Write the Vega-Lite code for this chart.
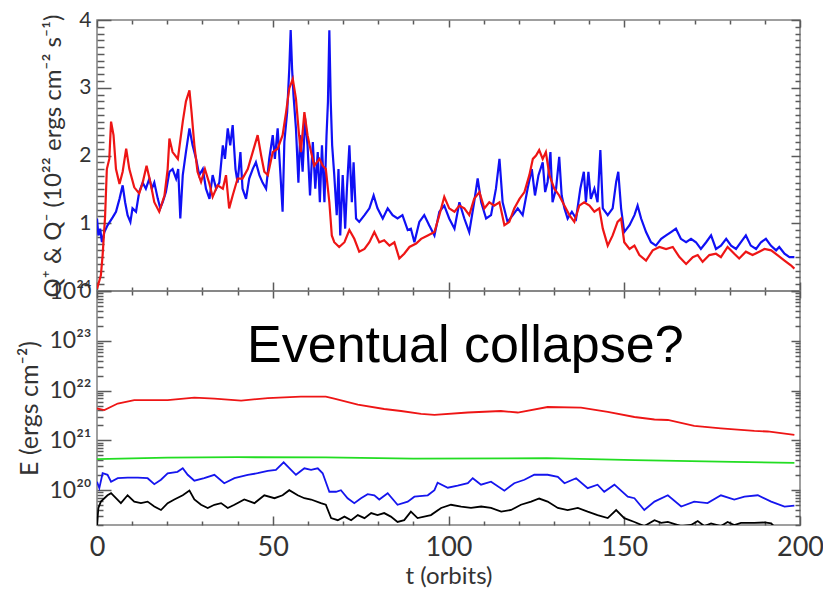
{
 "$schema": "https://vega.github.io/schema/vega-lite/v6.json",
 "background": "white",
 "padding": {"left": 16, "top": 8, "right": 0, "bottom": 5},
 "config": {
  "view": {"stroke": "#808080", "strokeWidth": 1.5},
  "axis": {"labelFont": "Lato", "titleFont": "Lato", "labelColor": "#333333", "titleColor": "#333333", "domain": false, "tickColor": "#5a5a5a", "grid": false, "titleFontWeight": "normal", "labelFlush": false, "labelOverlap": false, "tickWidth": 1.5}
 },
 "resolve": {"scale": {"color": "independent"}},
 "datasets": {
  "q": [
   {"s":"Q−","t":0,"v":1.07},{"s":"Q−","t":0.4,"v":0.82},{"s":"Q−","t":0.9,"v":0.92},{"s":"Q−","t":1.4,"v":0.72},{"s":"Q−","t":2.1,"v":0.87},{"s":"Q−","t":3.0,"v":0.97},{"s":"Q−","t":4.5,"v":1.09},{"s":"Q−","t":5.4,"v":1.17},{"s":"Q−","t":6.4,"v":1.36},{"s":"Q−","t":7.3,"v":1.56},{"s":"Q−","t":8.0,"v":1.31},{"s":"Q−","t":8.7,"v":1.12},{"s":"Q−","t":9.5,"v":1.02},{"s":"Q−","t":10.1,"v":1.22},{"s":"Q−","t":11.1,"v":1.17},{"s":"Q−","t":12.0,"v":1.46},{"s":"Q−","t":13.0,"v":1.6},{"s":"Q−","t":13.9,"v":1.51},{"s":"Q−","t":14.9,"v":1.66},{"s":"Q−","t":15.6,"v":1.51},{"s":"Q−","t":16.3,"v":1.6},{"s":"Q−","t":17.3,"v":1.36},{"s":"Q−","t":18.0,"v":1.22},{"s":"Q−","t":18.7,"v":1.31},{"s":"Q−","t":19.6,"v":1.46},{"s":"Q−","t":20.6,"v":1.76},{"s":"Q−","t":21.5,"v":1.8},{"s":"Q−","t":22.5,"v":1.66},{"s":"Q−","t":23.1,"v":1.8},{"s":"Q−","t":23.7,"v":1.07},{"s":"Q−","t":24.4,"v":1.71},{"s":"Q−","t":25.3,"v":2.05},{"s":"Q−","t":26.3,"v":2.4},{"s":"Q−","t":27.2,"v":2.15},{"s":"Q−","t":28.2,"v":1.95},{"s":"Q−","t":29.1,"v":1.71},{"s":"Q−","t":30.1,"v":1.8},{"s":"Q−","t":31.0,"v":1.51},{"s":"Q−","t":32.0,"v":1.36},{"s":"Q−","t":32.9,"v":1.71},{"s":"Q−","t":33.9,"v":1.51},{"s":"Q−","t":34.8,"v":1.6},{"s":"Q−","t":35.8,"v":2.15},{"s":"Q−","t":36.4,"v":1.95},{"s":"Q−","t":37.2,"v":2.4},{"s":"Q−","t":37.9,"v":2.15},{"s":"Q−","t":38.6,"v":2.45},{"s":"Q−","t":39.4,"v":1.8},{"s":"Q−","t":40.0,"v":1.6},{"s":"Q−","t":40.8,"v":2.05},{"s":"Q−","t":41.4,"v":1.51},{"s":"Q−","t":42.4,"v":1.36},{"s":"Q−","t":43.3,"v":1.66},{"s":"Q−","t":44.3,"v":1.8},{"s":"Q−","t":45.2,"v":1.9},{"s":"Q−","t":46.2,"v":1.71},{"s":"Q−","t":47.1,"v":1.6},{"s":"Q−","t":48.1,"v":1.51},{"s":"Q−","t":49.0,"v":1.95},{"s":"Q−","t":50.0,"v":2.3},{"s":"Q−","t":50.6,"v":1.95},{"s":"Q−","t":51.4,"v":2.4},{"s":"Q−","t":52.2,"v":1.71},{"s":"Q−","t":52.8,"v":1.17},{"s":"Q−","t":53.3,"v":2.2},{"s":"Q−","t":54.1,"v":2.64},{"s":"Q−","t":54.7,"v":3.28},{"s":"Q−","t":55.1,"v":3.85},{"s":"Q−","t":55.5,"v":3.28},{"s":"Q−","t":55.9,"v":2.89},{"s":"Q−","t":56.6,"v":2.4},{"s":"Q−","t":57.3,"v":1.6},{"s":"Q−","t":57.8,"v":2.3},{"s":"Q−","t":58.5,"v":1.76},{"s":"Q−","t":59.2,"v":2.55},{"s":"Q−","t":59.9,"v":2.15},{"s":"Q−","t":60.6,"v":1.41},{"s":"Q−","t":61.4,"v":2.2},{"s":"Q−","t":62.1,"v":1.51},{"s":"Q−","t":62.8,"v":2.05},{"s":"Q−","t":63.4,"v":1.31},{"s":"Q−","t":64.0,"v":2.15},{"s":"Q−","t":64.7,"v":1.31},{"s":"Q−","t":65.3,"v":2.3},{"s":"Q−","t":65.7,"v":2.79},{"s":"Q−","t":66.1,"v":3.85},{"s":"Q−","t":66.5,"v":2.79},{"s":"Q−","t":66.9,"v":2.15},{"s":"Q−","t":67.5,"v":1.71},{"s":"Q−","t":68.2,"v":1.12},{"s":"Q−","t":68.7,"v":1.8},{"s":"Q−","t":69.2,"v":0.82},{"s":"Q−","t":69.9,"v":1.71},{"s":"Q−","t":70.6,"v":0.92},{"s":"Q−","t":71.1,"v":1.51},{"s":"Q−","t":71.8,"v":2.15},{"s":"Q−","t":72.5,"v":1.31},{"s":"Q−","t":73.0,"v":1.9},{"s":"Q−","t":73.7,"v":1.07},{"s":"Q−","t":74.6,"v":1.02},{"s":"Q−","t":76.1,"v":1.12},{"s":"Q−","t":77.5,"v":1.22},{"s":"Q−","t":78.7,"v":1.41},{"s":"Q−","t":79.8,"v":1.22},{"s":"Q−","t":81.3,"v":1.07},{"s":"Q−","t":82.7,"v":1.22},{"s":"Q−","t":84.1,"v":1.12},{"s":"Q−","t":85.5,"v":1.07},{"s":"Q−","t":86.9,"v":1.12},{"s":"Q−","t":88.4,"v":0.9},{"s":"Q−","t":89.3,"v":0.92},{"s":"Q−","t":90.3,"v":0.72},{"s":"Q−","t":91.7,"v":1.02},{"s":"Q−","t":93.1,"v":1.12},{"s":"Q−","t":94.5,"v":0.97},{"s":"Q−","t":96.0,"v":0.82},{"s":"Q−","t":97.4,"v":1.17},{"s":"Q−","t":98.8,"v":1.26},{"s":"Q−","t":100.2,"v":1.07},{"s":"Q−","t":101.7,"v":0.92},{"s":"Q−","t":103.1,"v":1.31},{"s":"Q−","t":104.5,"v":1.07},{"s":"Q−","t":105.9,"v":0.87},{"s":"Q−","t":107.3,"v":1.31},{"s":"Q−","t":108.3,"v":1.66},{"s":"Q−","t":109.3,"v":1.31},{"s":"Q−","t":110.7,"v":1.07},{"s":"Q−","t":112.1,"v":1.12},{"s":"Q−","t":113.5,"v":1.51},{"s":"Q−","t":114.5,"v":1.95},{"s":"Q−","t":115.4,"v":1.31},{"s":"Q−","t":116.8,"v":1.02},{"s":"Q−","t":118.3,"v":1.12},{"s":"Q−","t":119.7,"v":1.22},{"s":"Q−","t":121.1,"v":1.12},{"s":"Q−","t":122.5,"v":1.51},{"s":"Q−","t":123.7,"v":1.8},{"s":"Q−","t":124.6,"v":1.41},{"s":"Q−","t":125.6,"v":1.71},{"s":"Q−","t":126.8,"v":1.9},{"s":"Q−","t":127.5,"v":1.46},{"s":"Q−","t":128.2,"v":1.61},{"s":"Q−","t":129.0,"v":2.05},{"s":"Q−","t":129.6,"v":1.31},{"s":"Q−","t":130.6,"v":1.51},{"s":"Q−","t":131.5,"v":1.98},{"s":"Q−","t":132.2,"v":1.41},{"s":"Q−","t":133.0,"v":1.22},{"s":"Q−","t":133.9,"v":1.07},{"s":"Q−","t":135.1,"v":1.17},{"s":"Q−","t":136.3,"v":1.07},{"s":"Q−","t":137.5,"v":1.51},{"s":"Q−","t":138.5,"v":1.76},{"s":"Q−","t":139.1,"v":1.31},{"s":"Q−","t":139.8,"v":1.76},{"s":"Q−","t":140.5,"v":1.36},{"s":"Q−","t":141.5,"v":1.51},{"s":"Q−","t":142.4,"v":1.31},{"s":"Q−","t":143.2,"v":2.08},{"s":"Q−","t":143.9,"v":1.22},{"s":"Q−","t":145.3,"v":1.12},{"s":"Q−","t":146.7,"v":1.22},{"s":"Q−","t":147.7,"v":1.61},{"s":"Q−","t":148.3,"v":1.76},{"s":"Q−","t":149.1,"v":1.22},{"s":"Q−","t":150.0,"v":0.87},{"s":"Q−","t":151.5,"v":0.97},{"s":"Q−","t":152.9,"v":1.12},{"s":"Q−","t":153.8,"v":1.26},{"s":"Q−","t":154.8,"v":1.07},{"s":"Q−","t":156.2,"v":0.87},{"s":"Q−","t":157.6,"v":0.72},{"s":"Q−","t":159.0,"v":0.67},{"s":"Q−","t":160.5,"v":0.77},{"s":"Q−","t":161.9,"v":0.82},{"s":"Q−","t":163.3,"v":0.87},{"s":"Q−","t":164.7,"v":0.92},{"s":"Q−","t":166.1,"v":0.77},{"s":"Q−","t":167.6,"v":0.72},{"s":"Q−","t":169.0,"v":0.77},{"s":"Q−","t":170.4,"v":0.72},{"s":"Q−","t":171.8,"v":0.62},{"s":"Q−","t":173.3,"v":0.72},{"s":"Q−","t":174.7,"v":0.82},{"s":"Q−","t":176.1,"v":0.62},{"s":"Q−","t":177.5,"v":0.67},{"s":"Q−","t":179.0,"v":0.77},{"s":"Q−","t":180.4,"v":0.67},{"s":"Q−","t":181.8,"v":0.62},{"s":"Q−","t":183.2,"v":0.72},{"s":"Q−","t":184.6,"v":0.82},{"s":"Q−","t":186.0,"v":0.67},{"s":"Q−","t":187.5,"v":0.62},{"s":"Q−","t":188.9,"v":0.72},{"s":"Q−","t":190.3,"v":0.77},{"s":"Q−","t":191.7,"v":0.67},{"s":"Q−","t":193.2,"v":0.6},{"s":"Q−","t":194.1,"v":0.65},{"s":"Q−","t":195.6,"v":0.55},{"s":"Q−","t":197.0,"v":0.5},{"s":"Q−","t":198.4,"v":0.5},
   {"s":"Q+","t":0,"v":0.03},{"s":"Q+","t":1.1,"v":0.23},{"s":"Q+","t":1.6,"v":0.53},{"s":"Q+","t":2.3,"v":1.1},{"s":"Q+","t":2.8,"v":1.8},{"s":"Q+","t":3.5,"v":1.95},{"s":"Q+","t":4.0,"v":2.5},{"s":"Q+","t":4.7,"v":2.3},{"s":"Q+","t":5.4,"v":1.8},{"s":"Q+","t":6.4,"v":1.58},{"s":"Q+","t":7.3,"v":1.76},{"s":"Q+","t":8.3,"v":2.1},{"s":"Q+","t":9.2,"v":1.8},{"s":"Q+","t":10.6,"v":1.53},{"s":"Q+","t":12.0,"v":1.44},{"s":"Q+","t":13.0,"v":1.6},{"s":"Q+","t":14.1,"v":1.85},{"s":"Q+","t":15.2,"v":1.6},{"s":"Q+","t":16.3,"v":1.31},{"s":"Q+","t":17.7,"v":1.17},{"s":"Q+","t":19.2,"v":1.41},{"s":"Q+","t":20.1,"v":1.8},{"s":"Q+","t":20.6,"v":2.25},{"s":"Q+","t":21.5,"v":2.05},{"s":"Q+","t":23.0,"v":1.95},{"s":"Q+","t":24.4,"v":2.5},{"s":"Q+","t":25.3,"v":2.8},{"s":"Q+","t":26.3,"v":2.96},{"s":"Q+","t":26.9,"v":2.64},{"s":"Q+","t":27.7,"v":2.15},{"s":"Q+","t":28.6,"v":1.76},{"s":"Q+","t":29.6,"v":1.61},{"s":"Q+","t":30.7,"v":1.8},{"s":"Q+","t":32.0,"v":1.58},{"s":"Q+","t":32.9,"v":1.39},{"s":"Q+","t":34.3,"v":1.56},{"s":"Q+","t":35.8,"v":1.51},{"s":"Q+","t":36.7,"v":1.71},{"s":"Q+","t":37.6,"v":1.22},{"s":"Q+","t":38.6,"v":1.41},{"s":"Q+","t":40.0,"v":1.66},{"s":"Q+","t":41.4,"v":1.66},{"s":"Q+","t":42.9,"v":1.8},{"s":"Q+","t":44.3,"v":2.05},{"s":"Q+","t":45.7,"v":2.3},{"s":"Q+","t":46.7,"v":2.0},{"s":"Q+","t":47.6,"v":1.76},{"s":"Q+","t":48.6,"v":1.71},{"s":"Q+","t":50.0,"v":2.05},{"s":"Q+","t":51.4,"v":2.1},{"s":"Q+","t":52.8,"v":2.3},{"s":"Q+","t":53.8,"v":2.64},{"s":"Q+","t":54.7,"v":2.99},{"s":"Q+","t":55.7,"v":3.13},{"s":"Q+","t":56.6,"v":2.84},{"s":"Q+","t":57.4,"v":2.35},{"s":"Q+","t":58.0,"v":2.05},{"s":"Q+","t":59.0,"v":2.64},{"s":"Q+","t":59.9,"v":2.3},{"s":"Q+","t":60.9,"v":2.05},{"s":"Q+","t":61.8,"v":1.85},{"s":"Q+","t":63.3,"v":1.95},{"s":"Q+","t":64.2,"v":1.85},{"s":"Q+","t":65.1,"v":1.8},{"s":"Q+","t":66.1,"v":1.31},{"s":"Q+","t":66.8,"v":0.82},{"s":"Q+","t":67.5,"v":0.72},{"s":"Q+","t":68.9,"v":0.65},{"s":"Q+","t":70.4,"v":0.72},{"s":"Q+","t":71.8,"v":0.9},{"s":"Q+","t":73.2,"v":0.77},{"s":"Q+","t":74.6,"v":0.58},{"s":"Q+","t":76.1,"v":0.62},{"s":"Q+","t":77.5,"v":0.72},{"s":"Q+","t":78.9,"v":0.87},{"s":"Q+","t":80.3,"v":0.72},{"s":"Q+","t":81.7,"v":0.75},{"s":"Q+","t":83.2,"v":0.67},{"s":"Q+","t":84.6,"v":0.72},{"s":"Q+","t":86.0,"v":0.48},{"s":"Q+","t":87.4,"v":0.55},{"s":"Q+","t":88.9,"v":0.65},{"s":"Q+","t":90.8,"v":0.7},{"s":"Q+","t":92.2,"v":0.77},{"s":"Q+","t":94.1,"v":0.82},{"s":"Q+","t":96.0,"v":0.87},{"s":"Q+","t":97.4,"v":1.12},{"s":"Q+","t":98.8,"v":1.39},{"s":"Q+","t":100.2,"v":1.22},{"s":"Q+","t":101.7,"v":1.17},{"s":"Q+","t":103.1,"v":1.26},{"s":"Q+","t":104.5,"v":1.22},{"s":"Q+","t":105.9,"v":1.12},{"s":"Q+","t":107.3,"v":1.36},{"s":"Q+","t":108.8,"v":1.46},{"s":"Q+","t":110.2,"v":1.22},{"s":"Q+","t":111.6,"v":1.31},{"s":"Q+","t":113.0,"v":1.26},{"s":"Q+","t":114.5,"v":1.31},{"s":"Q+","t":115.9,"v":0.97},{"s":"Q+","t":117.3,"v":1.02},{"s":"Q+","t":118.7,"v":1.22},{"s":"Q+","t":120.2,"v":1.36},{"s":"Q+","t":121.6,"v":1.46},{"s":"Q+","t":123.0,"v":1.71},{"s":"Q+","t":124.0,"v":1.95},{"s":"Q+","t":124.9,"v":2.0},{"s":"Q+","t":125.8,"v":2.08},{"s":"Q+","t":126.8,"v":1.95},{"s":"Q+","t":127.7,"v":2.05},{"s":"Q+","t":128.7,"v":1.71},{"s":"Q+","t":130.1,"v":1.51},{"s":"Q+","t":131.5,"v":1.41},{"s":"Q+","t":133.0,"v":1.26},{"s":"Q+","t":134.4,"v":1.12},{"s":"Q+","t":135.8,"v":1.02},{"s":"Q+","t":137.2,"v":1.26},{"s":"Q+","t":138.6,"v":1.31},{"s":"Q+","t":140.1,"v":1.26},{"s":"Q+","t":141.5,"v":1.17},{"s":"Q+","t":142.9,"v":1.22},{"s":"Q+","t":143.9,"v":0.92},{"s":"Q+","t":145.3,"v":0.67},{"s":"Q+","t":146.7,"v":0.82},{"s":"Q+","t":148.1,"v":1.02},{"s":"Q+","t":149.1,"v":1.07},{"s":"Q+","t":150.0,"v":0.72},{"s":"Q+","t":151.5,"v":0.62},{"s":"Q+","t":152.9,"v":0.67},{"s":"Q+","t":154.3,"v":0.53},{"s":"Q+","t":156.2,"v":0.45},{"s":"Q+","t":158.1,"v":0.6},{"s":"Q+","t":160.0,"v":0.65},{"s":"Q+","t":161.9,"v":0.62},{"s":"Q+","t":163.8,"v":0.65},{"s":"Q+","t":165.7,"v":0.5},{"s":"Q+","t":167.6,"v":0.4},{"s":"Q+","t":169.5,"v":0.5},{"s":"Q+","t":170.9,"v":0.53},{"s":"Q+","t":172.3,"v":0.43},{"s":"Q+","t":174.2,"v":0.53},{"s":"Q+","t":176.1,"v":0.55},{"s":"Q+","t":177.5,"v":0.5},{"s":"Q+","t":179.4,"v":0.65},{"s":"Q+","t":181.3,"v":0.55},{"s":"Q+","t":182.7,"v":0.48},{"s":"Q+","t":184.6,"v":0.58},{"s":"Q+","t":186.5,"v":0.53},{"s":"Q+","t":188.4,"v":0.58},{"s":"Q+","t":189.9,"v":0.62},{"s":"Q+","t":191.8,"v":0.6},{"s":"Q+","t":193.6,"v":0.53},{"s":"Q+","t":195.6,"v":0.45},{"s":"Q+","t":197.4,"v":0.38},{"s":"Q+","t":198.4,"v":0.33}
  ],
  "e": [
   {"s":"E1","t":0,"E":4.37e21},{"s":"E1","t":2.1,"E":4.07e21},{"s":"E1","t":5.9,"E":5.5e21},{"s":"E1","t":10.6,"E":6.46e21},{"s":"E1","t":20.1,"E":6.46e21},{"s":"E1","t":27.7,"E":7.24e21},{"s":"E1","t":33.4,"E":6.92e21},{"s":"E1","t":41,"E":6.31e21},{"s":"E1","t":48.6,"E":7.08e21},{"s":"E1","t":58,"E":7.59e21},{"s":"E1","t":65.1,"E":7.59e21},{"s":"E1","t":67.5,"E":6.92e21},{"s":"E1","t":74.2,"E":5.25e21},{"s":"E1","t":81.7,"E":4.27e21},{"s":"E1","t":86.5,"E":3.89e21},{"s":"E1","t":92.2,"E":3.4e21},{"s":"E1","t":96,"E":3.24e21},{"s":"E1","t":105.5,"E":3.63e21},{"s":"E1","t":114.9,"E":3.89e21},{"s":"E1","t":119.7,"E":3.63e21},{"s":"E1","t":128.2,"E":4.68e21},{"s":"E1","t":137.7,"E":4.57e21},{"s":"E1","t":145.3,"E":3.72e21},{"s":"E1","t":152.9,"E":2.95e21},{"s":"E1","t":158.6,"E":2.63e21},{"s":"E1","t":162.4,"E":2.57e21},{"s":"E1","t":169.9,"E":1.95e21},{"s":"E1","t":177.5,"E":1.74e21},{"s":"E1","t":187,"E":1.55e21},{"s":"E1","t":190.8,"E":1.51e21},{"s":"E1","t":198.4,"E":1.29e21},
   {"s":"E2","t":0,"E":4.2e20},{"s":"E2","t":20,"E":4.5e20},{"s":"E2","t":40,"E":4.6e20},{"s":"E2","t":65,"E":4.55e20},{"s":"E2","t":90,"E":4.3e20},{"s":"E2","t":128,"E":4.4e20},{"s":"E2","t":153,"E":4.0e20},{"s":"E2","t":181,"E":3.7e20},{"s":"E2","t":198.4,"E":3.55e20},
   {"s":"E3","t":0,"E":1.48e20},{"s":"E3","t":0.66,"E":1.1e20},{"s":"E3","t":1.6,"E":2.19e20},{"s":"E3","t":3.0,"E":2.04e20},{"s":"E3","t":4.0,"E":1.48e20},{"s":"E3","t":5.9,"E":1.74e20},{"s":"E3","t":8.7,"E":1.78e20},{"s":"E3","t":11.6,"E":1.78e20},{"s":"E3","t":14.4,"E":1.74e20},{"s":"E3","t":16.3,"E":1.32e20},{"s":"E3","t":18.2,"E":1.62e20},{"s":"E3","t":20.1,"E":2.19e20},{"s":"E3","t":22.9,"E":2.34e20},{"s":"E3","t":24.4,"E":2.75e20},{"s":"E3","t":25.8,"E":2.04e20},{"s":"E3","t":27.7,"E":1.55e20},{"s":"E3","t":30.5,"E":1.74e20},{"s":"E3","t":33.4,"E":2.04e20},{"s":"E3","t":36.2,"E":1.38e20},{"s":"E3","t":39.1,"E":1.74e20},{"s":"E3","t":42.9,"E":2.04e20},{"s":"E3","t":45.7,"E":2.19e20},{"s":"E3","t":48.6,"E":2.45e20},{"s":"E3","t":50.9,"E":2.57e20},{"s":"E3","t":53.1,"E":3.63e20},{"s":"E3","t":55.2,"E":2.57e20},{"s":"E3","t":56.6,"E":2.04e20},{"s":"E3","t":59,"E":2.75e20},{"s":"E3","t":60.9,"E":2.57e20},{"s":"E3","t":62.8,"E":2.75e20},{"s":"E3","t":64.2,"E":2.19e20},{"s":"E3","t":66.1,"E":9.3e19},{"s":"E3","t":68,"E":9.3e19},{"s":"E3","t":69.4,"E":1.0e20},{"s":"E3","t":71.3,"E":6.9e19},{"s":"E3","t":73.2,"E":5.5e19},{"s":"E3","t":75.1,"E":6.9e19},{"s":"E3","t":77,"E":8.3e19},{"s":"E3","t":78.9,"E":7.9e19},{"s":"E3","t":80.3,"E":6.5e19},{"s":"E3","t":82.7,"E":8.7e19},{"s":"E3","t":85.5,"E":5.1e19},{"s":"E3","t":88.4,"E":5.9e19},{"s":"E3","t":90.3,"E":7.4e19},{"s":"E3","t":94.1,"E":7.9e19},{"s":"E3","t":96,"E":1.0e20},{"s":"E3","t":96.9,"E":1.41e20},{"s":"E3","t":99.8,"E":1.12e20},{"s":"E3","t":102.6,"E":1.23e20},{"s":"E3","t":105.5,"E":1.38e20},{"s":"E3","t":106.9,"E":1.74e20},{"s":"E3","t":109.25,"E":1.29e20},{"s":"E3","t":112.1,"E":1.48e20},{"s":"E3","t":115.9,"E":9.8e19},{"s":"E3","t":118.7,"E":1.38e20},{"s":"E3","t":121.6,"E":1.62e20},{"s":"E3","t":124.4,"E":2.04e20},{"s":"E3","t":128.2,"E":2.04e20},{"s":"E3","t":131.1,"E":1.86e20},{"s":"E3","t":133,"E":1.38e20},{"s":"E3","t":136.3,"E":1.74e20},{"s":"E3","t":139.6,"E":1.1e20},{"s":"E3","t":142.4,"E":1.29e20},{"s":"E3","t":144.3,"E":9.3e19},{"s":"E3","t":147.2,"E":1.29e20},{"s":"E3","t":151,"E":7.4e19},{"s":"E3","t":152.9,"E":6.9e19},{"s":"E3","t":155.7,"E":4.0e19},{"s":"E3","t":158.6,"E":5.9e19},{"s":"E3","t":162.4,"E":7.9e19},{"s":"E3","t":166.2,"E":4.7e19},{"s":"E3","t":169.9,"E":5.9e19},{"s":"E3","t":173.7,"E":5.5e19},{"s":"E3","t":177.5,"E":7.9e19},{"s":"E3","t":181.3,"E":6.5e19},{"s":"E3","t":184.2,"E":7.4e19},{"s":"E3","t":188,"E":7.9e19},{"s":"E3","t":191.8,"E":5.9e19},{"s":"E3","t":195.6,"E":4.7e19},{"s":"E3","t":198.4,"E":4.9e19},
   {"s":"E4","t":0,"E":2.0e19},{"s":"E4","t":0.4,"E":4.4e19},{"s":"E4","t":1.1,"E":5.9e19},{"s":"E4","t":3.0,"E":7.9e19},{"s":"E4","t":4.0,"E":8.7e19},{"s":"E4","t":5.4,"E":6.9e19},{"s":"E4","t":6.8,"E":5.5e19},{"s":"E4","t":8.7,"E":7.9e19},{"s":"E4","t":10.6,"E":5.9e19},{"s":"E4","t":12.5,"E":5.5e19},{"s":"E4","t":14.4,"E":5.9e19},{"s":"E4","t":16.3,"E":4.7e19},{"s":"E4","t":18.2,"E":4.0e19},{"s":"E4","t":20.1,"E":5.5e19},{"s":"E4","t":22,"E":6.5e19},{"s":"E4","t":24.4,"E":7.9e19},{"s":"E4","t":26.3,"E":9.8e19},{"s":"E4","t":27.7,"E":6.5e19},{"s":"E4","t":29.6,"E":5.1e19},{"s":"E4","t":31.5,"E":4.4e19},{"s":"E4","t":33.4,"E":5.1e19},{"s":"E4","t":35.3,"E":5.5e19},{"s":"E4","t":37.2,"E":4.4e19},{"s":"E4","t":39.1,"E":5.1e19},{"s":"E4","t":41.9,"E":6.5e19},{"s":"E4","t":44.8,"E":5.5e19},{"s":"E4","t":47.6,"E":7.9e19},{"s":"E4","t":50.5,"E":6.9e19},{"s":"E4","t":52.8,"E":7.9e19},{"s":"E4","t":54.7,"E":1.0e20},{"s":"E4","t":57.1,"E":7.9e19},{"s":"E4","t":59,"E":6.9e19},{"s":"E4","t":60.9,"E":6.5e19},{"s":"E4","t":63.7,"E":5.5e19},{"s":"E4","t":65.1,"E":5.1e19},{"s":"E4","t":66.6,"E":2.75e19},{"s":"E4","t":68.5,"E":2.5e19},{"s":"E4","t":70.4,"E":2.95e19},{"s":"E4","t":72.3,"E":2.5e19},{"s":"E4","t":74.2,"E":3.16e19},{"s":"E4","t":76.1,"E":2.75e19},{"s":"E4","t":78,"E":3.47e19},{"s":"E4","t":79.8,"E":3.16e19},{"s":"E4","t":81.7,"E":3.47e19},{"s":"E4","t":83.6,"E":2.95e19},{"s":"E4","t":85.5,"E":2.3e19},{"s":"E4","t":87.4,"E":2.5e19},{"s":"E4","t":89.3,"E":3.7e19},{"s":"E4","t":91.2,"E":2.75e19},{"s":"E4","t":95,"E":3.16e19},{"s":"E4","t":97.9,"E":4.4e19},{"s":"E4","t":100.7,"E":5.1e19},{"s":"E4","t":103.6,"E":4.7e19},{"s":"E4","t":106.4,"E":4.4e19},{"s":"E4","t":109.3,"E":4.7e19},{"s":"E4","t":112.1,"E":4.4e19},{"s":"E4","t":115,"E":3.7e19},{"s":"E4","t":117.8,"E":4.0e19},{"s":"E4","t":120.6,"E":5.1e19},{"s":"E4","t":123.5,"E":5.9e19},{"s":"E4","t":125.8,"E":6.8e19},{"s":"E4","t":128.2,"E":5.9e19},{"s":"E4","t":131.1,"E":4.4e19},{"s":"E4","t":133.9,"E":4.0e19},{"s":"E4","t":136.8,"E":4.4e19},{"s":"E4","t":139.6,"E":3.7e19},{"s":"E4","t":142.4,"E":3.16e19},{"s":"E4","t":145.3,"E":2.75e19},{"s":"E4","t":147.7,"E":4.0e19},{"s":"E4","t":150,"E":2.75e19},{"s":"E4","t":152.9,"E":2.3e19},{"s":"E4","t":155.7,"E":1.9e19},{"s":"E4","t":158.6,"E":2.5e19},{"s":"E4","t":160.5,"E":2.2e19},{"s":"E4","t":162.4,"E":2.3e19},{"s":"E4","t":166.2,"E":1.9e19},{"s":"E4","t":169,"E":2.0e19},{"s":"E4","t":170.9,"E":2.4e19},{"s":"E4","t":172.8,"E":1.9e19},{"s":"E4","t":174.7,"E":2.15e19},{"s":"E4","t":177.5,"E":1.9e19},{"s":"E4","t":179.4,"E":2.3e19},{"s":"E4","t":181.3,"E":2.0e19},{"s":"E4","t":183.2,"E":2.2e19},{"s":"E4","t":187,"E":2.2e19},{"s":"E4","t":189.9,"E":2.25e19},{"s":"E4","t":191.8,"E":2.15e19},{"s":"E4","t":193.6,"E":1.6e19},{"s":"E4","t":198.4,"E":1.6e19}
  ],
  "note": [{"label": "Eventual collapse?"}]
 },
 "spacing": 0,
 "bounds": "flush",
 "vconcat": [
  {
   "width": 703, "height": 271,
   "layer": [
    {
     "data": {"name": "q"},
     "mark": {"type": "line", "strokeWidth": 2.2, "clip": true},
     "encoding": {
      "x": {"field": "t", "type": "quantitative", "scale": {"domain": [0, 200], "nice": false},
        "axis": {"orient": "bottom", "title": null, "labels": false, "values": [0,50,100,150,200], "tickSize": -9}},
      "y": {"field": "v", "type": "quantitative", "scale": {"domain": [0, 4], "nice": false},
        "axis": {"orient": "left", "title": "Q⁺ & Q⁻ (10²² ergs cm⁻² s⁻¹)", "titleFontSize": 24, "titleX": -32, "labelFontSize": 21, "labelPadding": 20,
          "values": [0,1,2,3,4], "format": "d", "tickSize": -14}},
      "color": {"field": "s", "type": "nominal", "scale": {"domain": ["Q−", "Q+"], "range": ["#1010f5", "#ee1515"]}, "legend": null}
     }
    },
    {
     "data": {"name": "note"},
     "mark": {"type": "point", "opacity": 0},
     "encoding": {
      "x": {"datum": 0, "type": "quantitative", "scale": {"domain": [0, 200], "nice": false},
        "axis": {"orient": "top", "title": null, "labels": false, "values": [0,50,100,150,200], "tickSize": -7}},
      "y": {"datum": 1, "type": "quantitative", "scale": {"domain": [0, 4], "nice": false},
        "axis": {"orient": "right", "title": null, "labels": false, "values": [0,1,2,3,4], "tickSize": -9}}
     }
    },
    {
     "data": {"name": "note"},
     "mark": {"type": "point", "opacity": 0},
     "encoding": {
      "x": {"datum": 0, "type": "quantitative", "scale": {"domain": [0, 200], "nice": false},
        "axis": {"orient": "bottom", "title": null, "labels": false, "values": [10,20,30,40,60,70,80,90,110,120,130,140,160,170,180,190], "tickSize": -4}},
      "y": {"datum": 1, "type": "quantitative", "scale": {"domain": [0, 4], "nice": false},
        "axis": {"orient": "left", "title": null, "labels": false, "values": [0.1,0.2,0.3,0.4,0.5,0.6,0.7,0.8,0.9,1.1,1.2,1.3,1.4,1.5,1.6,1.7,1.8,1.9,2.1,2.2,2.3,2.4,2.5,2.6,2.7,2.8,2.9,3.1,3.2,3.3,3.4,3.5,3.6,3.7,3.8,3.9], "tickSize": -7}}
     }
    },
    {
     "data": {"name": "note"},
     "mark": {"type": "point", "opacity": 0},
     "encoding": {
      "x": {"datum": 0, "type": "quantitative", "scale": {"domain": [0, 200], "nice": false},
        "axis": {"orient": "top", "title": null, "labels": false, "values": [10,20,30,40,60,70,80,90,110,120,130,140,160,170,180,190], "tickSize": -4}},
      "y": {"datum": 1, "type": "quantitative", "scale": {"domain": [0, 4], "nice": false},
        "axis": {"orient": "right", "title": null, "labels": false, "values": [0.1,0.2,0.3,0.4,0.5,0.6,0.7,0.8,0.9,1.1,1.2,1.3,1.4,1.5,1.6,1.7,1.8,1.9,2.1,2.2,2.3,2.4,2.5,2.6,2.7,2.8,2.9,3.1,3.2,3.3,3.4,3.5,3.6,3.7,3.8,3.9], "tickSize": -5}}
     }
    }
   ],
   "resolve": {"axis": {"x": "independent", "y": "independent"}}
  },
  {
   "width": 703, "height": 234,
   "layer": [
    {
     "data": {"name": "e"},
     "mark": {"type": "line", "strokeWidth": 1.8, "clip": true},
     "encoding": {
      "x": {"field": "t", "type": "quantitative", "scale": {"domain": [0, 200], "nice": false},
        "axis": {"orient": "bottom", "title": "t (orbits)", "titleFontSize": 24, "titlePadding": 4, "labelFontSize": 27, "labelPadding": 18,
          "values": [0,50,100,150,200], "format": "d", "tickSize": -9}},
      "y": {"field": "E", "type": "quantitative", "scale": {"type": "log", "domain": [2e19, 1e24], "nice": false},
        "axis": {"orient": "left", "title": "E (ergs cm⁻²)", "titleFontSize": 25, "titleX": -55, "labelFontSize": 23, "labelPadding": 20,
          "values": [1e20,1e21,1e22,1e23,1e24],
          "labelExpr": "datum.value == 1e20 ? '10²⁰' : datum.value == 1e21 ? '10²¹' : datum.value == 1e22 ? '10²²' : datum.value == 1e23 ? '10²³' : '10²⁴'",
          "tickSize": -14}},
      "color": {"field": "s", "type": "nominal", "scale": {"domain": ["E1", "E2", "E3", "E4"], "range": ["#ee1515", "#22dd22", "#1515ee", "#000000"]}, "legend": null}
     }
    },
    {
     "data": {"name": "note"},
     "mark": {"type": "text", "font": "Liberation Sans", "fontSize": 52, "align": "left", "baseline": "alphabetic", "color": "#000000"},
     "encoding": {
      "text": {"field": "label", "type": "nominal"},
      "x": {"datum": 42.7, "type": "quantitative", "axis": null},
      "y": {"datum": 3.8e22, "type": "quantitative", "axis": null}
     }
    },
    {
     "data": {"name": "note"},
     "mark": {"type": "point", "opacity": 0},
     "encoding": {
      "x": {"datum": 0, "type": "quantitative", "scale": {"domain": [0, 200], "nice": false},
        "axis": {"orient": "top", "title": null, "labels": false, "values": [0,50,100,150,200], "tickSize": -7}},
      "y": {"datum": 1e21, "type": "quantitative", "scale": {"type": "log", "domain": [2e19, 1e24], "nice": false},
        "axis": {"orient": "right", "title": null, "labels": false, "values": [1e20,1e21,1e22,1e23,1e24], "tickSize": -9}}
     }
    },
    {
     "data": {"name": "note"},
     "mark": {"type": "point", "opacity": 0},
     "encoding": {
      "x": {"datum": 0, "type": "quantitative", "scale": {"domain": [0, 200], "nice": false},
        "axis": {"orient": "bottom", "title": null, "labels": false, "values": [10,20,30,40,60,70,80,90,110,120,130,140,160,170,180,190], "tickSize": -4}},
      "y": {"datum": 1e21, "type": "quantitative", "scale": {"type": "log", "domain": [2e19, 1e24], "nice": false},
        "axis": {"orient": "left", "title": null, "labels": false, "values": [2e19,3e19,4e19,5e19,6e19,7e19,8e19,9e19,2e20,3e20,4e20,5e20,6e20,7e20,8e20,9e20,2e21,3e21,4e21,5e21,6e21,7e21,8e21,9e21,2e22,3e22,4e22,5e22,6e22,7e22,8e22,9e22,2e23,3e23,4e23,5e23,6e23,7e23,8e23,9e23], "tickSize": -6}}
     }
    },
    {
     "data": {"name": "note"},
     "mark": {"type": "point", "opacity": 0},
     "encoding": {
      "x": {"datum": 0, "type": "quantitative", "scale": {"domain": [0, 200], "nice": false},
        "axis": {"orient": "top", "title": null, "labels": false, "values": [10,20,30,40,60,70,80,90,110,120,130,140,160,170,180,190], "tickSize": -4}},
      "y": {"datum": 1e21, "type": "quantitative", "scale": {"type": "log", "domain": [2e19, 1e24], "nice": false},
        "axis": {"orient": "right", "title": null, "labels": false, "values": [2e19,3e19,4e19,5e19,6e19,7e19,8e19,9e19,2e20,3e20,4e20,5e20,6e20,7e20,8e20,9e20,2e21,3e21,4e21,5e21,6e21,7e21,8e21,9e21,2e22,3e22,4e22,5e22,6e22,7e22,8e22,9e22,2e23,3e23,4e23,5e23,6e23,7e23,8e23,9e23], "tickSize": -5}}
     }
    }
   ],
   "resolve": {"axis": {"x": "independent", "y": "independent"}}
  }
 ]
}
